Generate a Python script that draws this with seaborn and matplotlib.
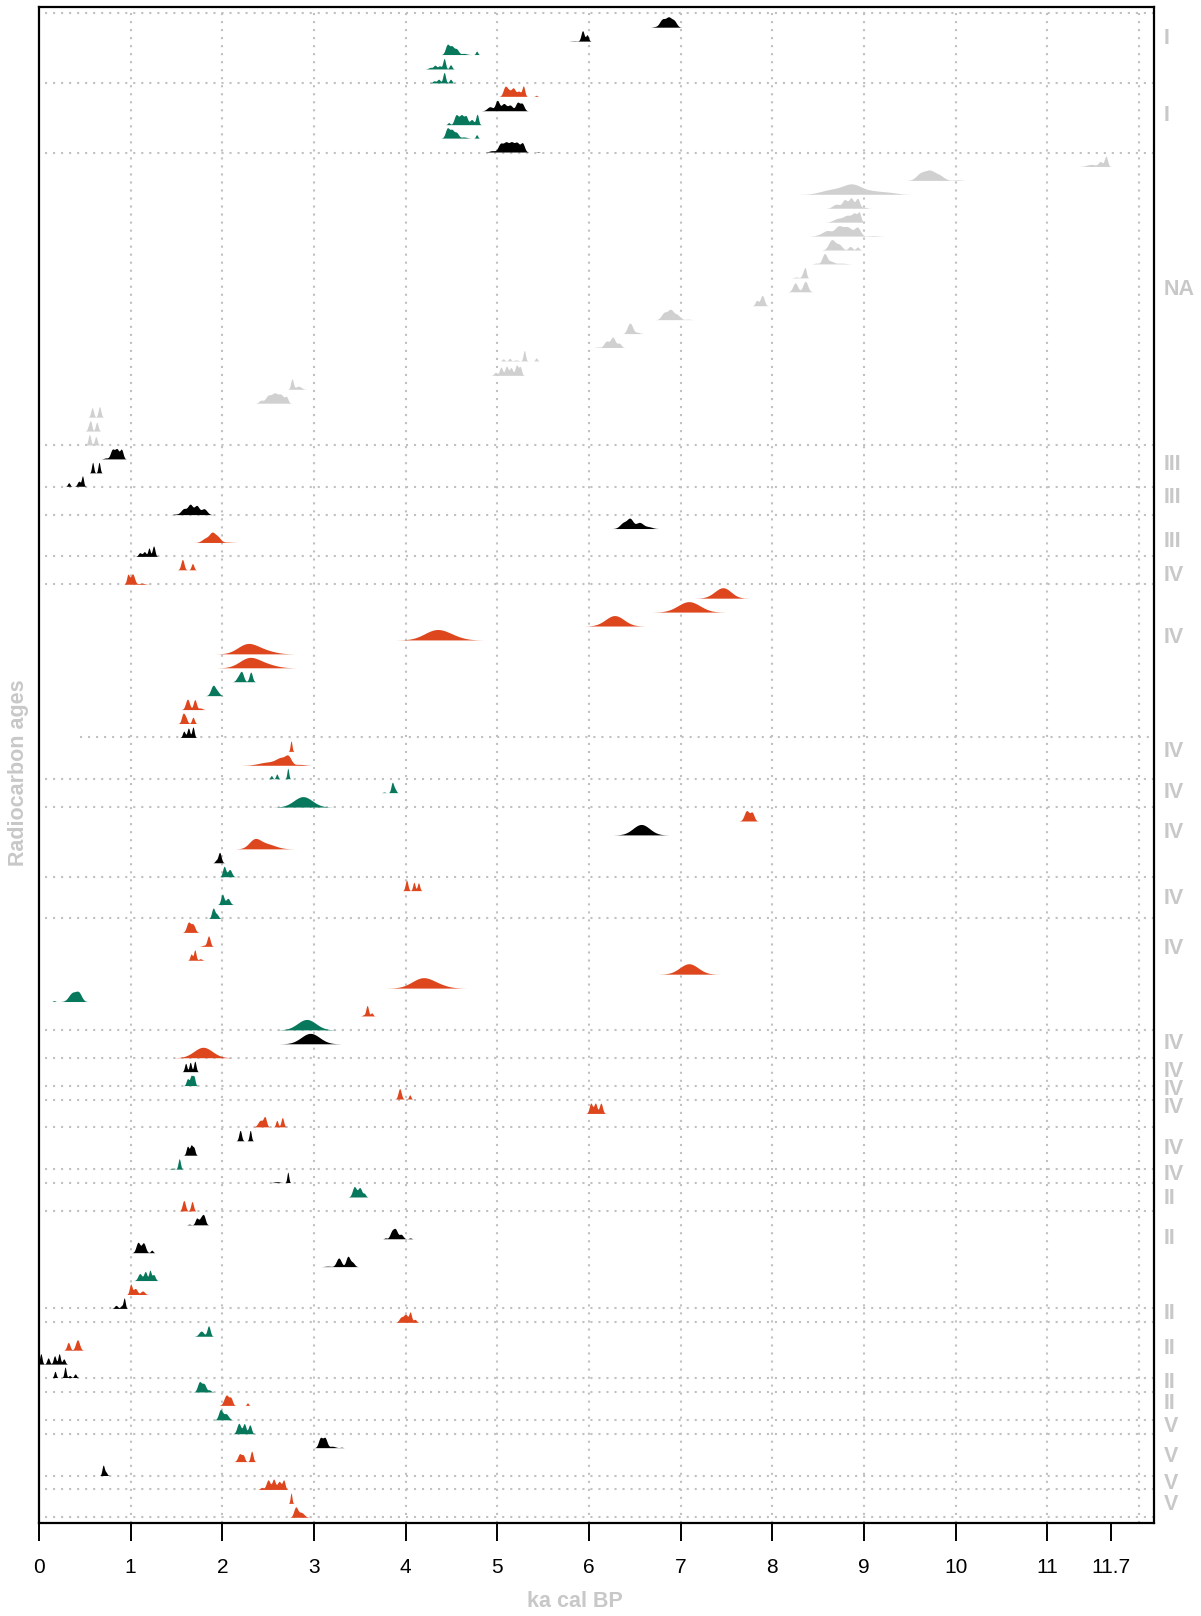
import numpy as np
import matplotlib
matplotlib.use("Agg")
import matplotlib.pyplot as plt
import seaborn as sns

# ---------------------------------------------------------------------------
# Calibrated age profiles, one per row (top to bottom).  Each profile is a set
# of (centre ka, spread ka, relative height) components; None = no profile.
# Colour keys: k = black, g = green, r = red, n = undated context (grey)
# ---------------------------------------------------------------------------
row_colour = [
    "k", "k", "g", "g", "g",                                  # 1-5
    "r", "k", "g", "g", "k",                                  # 6-10
    "n", "n", "n", "n", "n", "n", "n", "n", "n", "n",         # 11-20
    "n", "n", "n", "n", "n", "n", "n", "n", "n", "n", "n",    # 21-31
    "k", "k", "k", None, "k",                                 # 32-36
    "k", "r", "k", "r", "r",                                  # 37-41
    "r", "r", "r", "r", "r", "r", "g", "g", "r", "r", "k",    # 42-52
    "r", "r", "g", "g", "g",                                  # 53-57
    "r", "k", "r", "k", "g",                                  # 58-62
    "r", "g", "g",                                            # 63-65
    "r", "r", "r", "r", "r", "g", "r", "g",                   # 66-73
    "k", "r", "k", "g", "r", "r", "r",                        # 74-80
    "k", "k", "g", "k", "g", "r",                             # 81-86
    "k", "k", "k", "k", "g", "r", "k",                        # 87-93
    "r", "g", "r", "k", "k",                                  # 94-98
    "g", "r", "g", "g",                                       # 99-102
    "k", "r", "k", "r", "r", "r",                             # 103-108
]

row_peaks = [
    [(6.80, .03, .8), (6.87, .03, 1), (6.93, .025, .6), (6.72, .02, .05)],
    [(5.93, .015, 1), (5.98, .012, .6), (5.84, .03, .03)],
    [(4.46, .02, 1), (4.51, .02, .8), (4.56, .02, .55), (4.64, .03, .12), (4.78, .008, .35)],
    [(4.27, .02, .15), (4.32, .015, .35), (4.37, .015, .3), (4.42, .012, 1), (4.49, .012, .4)],
    [(4.31, .015, .2), (4.36, .015, .35), (4.42, .012, 1), (4.49, .012, .35)],
    [(5.09, .02, .9), (5.13, .02, .5), (5.18, .02, .8), (5.24, .02, .5), (5.29, .012, 1), (5.43, .008, .1)],
    [(4.92, .03, .4), (5.00, .02, 1), (5.07, .025, .7), (5.14, .025, .55), (5.22, .02, .8), (5.27, .02, .7)],
    [(4.47, .01, .2), (4.55, .02, .9), (4.61, .025, .95), (4.66, .015, .7), (4.72, .02, .5), (4.78, .012, 1)],
    [(4.46, .02, 1), (4.51, .02, .8), (4.56, .02, .55), (4.64, .03, .12), (4.78, .008, .35)],
    [(4.95, .03, .15), (5.04, .025, .9), (5.10, .025, 1), (5.16, .025, 1), (5.22, .025, 1), (5.28, .02, .95), (5.45, .01, .05)],
    # undated contexts
    [(11.48, .05, .2), (11.58, .02, .45), (11.64, .015, 1)],
    [(9.62, .05, .7), (9.72, .05, .9), (9.82, .05, .5), (10.02, .04, .06)],
    [(8.65, .12, .5), (8.87, .10, 1), (9.10, .12, .35), (9.30, .08, .12)],
    [(8.70, .04, .4), (8.79, .025, .8), (8.86, .025, 1), (8.93, .02, .95), (9.00, .03, .1)],
    [(8.72, .05, .45), (8.82, .04, .75), (8.90, .03, 1), (8.95, .015, .95)],
    [(8.50, .04, .08), (8.60, .05, .6), (8.72, .04, .95), (8.82, .05, 1), (8.93, .03, .9), (9.10, .06, .06)],
    [(8.65, .035, 1), (8.73, .03, .5), (8.85, .02, .35), (8.93, .015, .3)],
    [(8.48, .02, .08), (8.57, .025, 1), (8.64, .03, .25), (8.75, .05, .08)],
    [(8.26, .02, .12), (8.34, .015, .7), (8.36, .01, 1)],
    [(8.25, .025, .85), (8.36, .025, 1)],
    [(7.83, .015, .5), (7.89, .02, 1)],
    [(6.82, .03, .7), (6.89, .03, 1), (6.96, .03, .5), (7.08, .03, .05)],
    [(6.43, .02, .9), (6.46, .02, 1), (6.52, .03, .2)],
    [(6.10, .02, .05), (6.19, .025, .6), (6.26, .025, 1), (6.33, .02, .4)],
    [(5.07, .01, .2), (5.14, .01, .25), (5.21, .02, .1), (5.30, .01, 1), (5.43, .008, .3)],
    [(4.98, .015, .3), (5.04, .015, .8), (5.10, .015, .9), (5.15, .015, .75), (5.21, .015, 1), (5.25, .012, .8)],
    [(2.76, .012, 1), (2.83, .03, .3)],
    [(2.42, .02, .3), (2.50, .03, .8), (2.57, .03, 1), (2.64, .03, .9), (2.70, .015, .6)],
    [(0.58, .012, .9), (0.66, .012, 1)],
    [(0.545, .012, .6), (0.565, .01, .9), (0.63, .012, 1)],
    [(0.55, .012, 1), (0.62, .012, .8)],
    # 32-41
    [(0.73, .02, .1), (0.80, .02, .95), (0.85, .02, 1), (0.90, .015, .95)],
    [(0.585, .008, 1), (0.655, .008, 1)],
    [(0.33, .01, .35), (0.44, .015, .5), (0.48, .008, 1)],
    None,
    [(1.50, .03, .05), (1.58, .03, .6), (1.65, .025, 1), (1.72, .025, .9), (1.80, .03, .6)],
    [(6.38, .04, .7), (6.45, .03, 1), (6.55, .04, .7), (6.65, .04, .2)],
    [(1.82, .04, .5), (1.89, .03, 1), (1.95, .03, .6), (2.05, .05, .05)],
    [(1.10, .015, .35), (1.15, .015, .45), (1.20, .01, .8), (1.25, .012, 1)],
    [(1.57, .015, 1), (1.68, .012, .6)],
    [(0.97, .012, .9), (1.02, .02, 1), (1.12, .03, .1)],
    # 42-52
    [(7.48, .08, 1), (7.40, .08, .4)],
    [(7.09, .12, 1)],
    [(6.28, .10, 1)],
    [(4.33, .13, 1), (4.50, .12, .25)],
    [(2.25, .10, .8), (2.35, .12, .7), (2.52, .10, .15)],
    [(2.27, .10, .8), (2.37, .12, .7), (2.54, .10, .15)],
    [(2.17, .02, .4), (2.21, .02, 1), (2.31, .015, 1)],
    [(1.90, .025, 1), (1.95, .02, .3)],
    [(1.62, .02, 1), (1.70, .015, .95), (1.76, .02, .15)],
    [(1.57, .015, 1), (1.60, .015, .6), (1.68, .012, .7)],
    [(1.58, .012, .6), (1.63, .012, .9), (1.68, .01, 1)],
    # 53-57
    [(2.75, .006, 1)],
    [(2.50, .10, .35), (2.65, .06, .75), (2.72, .03, .7), (2.85, .05, .1)],
    [(2.54, .008, .3), (2.60, .008, .45), (2.72, .006, 1)],
    [(3.77, .01, .06), (3.86, .012, 1), (3.89, .01, .3)],
    [(2.88, .10, 1)],
    # 58-62
    [(7.72, .025, 1), (7.78, .02, .8)],
    [(6.57, .09, 1)],
    [(2.35, .06, .9), (2.47, .10, .6)],
    [(1.93, .01, .2), (1.97, .015, 1)],
    [(2.02, .015, 1), (2.08, .02, .7)],
    # 63-65
    [(4.01, .012, 1), (4.09, .01, .8), (4.14, .01, .75)],
    [(2.00, .015, 1), (2.06, .02, .6)],
    [(1.90, .015, 1), (1.94, .015, .4)],
    # 66-73
    [(1.63, .02, 1), (1.68, .02, .8)],
    [(1.80, .02, .1), (1.85, .015, 1)],
    [(1.66, .01, .6), (1.70, .01, 1), (1.76, .015, .15)],
    [(7.09, .10, 1)],
    [(4.19, .12, 1), (4.38, .10, .15)],
    [(0.17, .008, .1), (0.37, .04, 1), (0.44, .03, .9)],
    [(3.54, .01, .1), (3.58, .012, 1), (3.63, .01, .3)],
    [(2.92, .10, 1)],
    # 74-80
    [(2.96, .10, 1)],
    [(1.79, .10, 1)],
    [(1.60, .01, .8), (1.65, .01, .9), (1.70, .01, 1)],
    [(1.62, .012, .7), (1.66, .012, 1), (1.69, .01, .9)],
    [(3.94, .015, 1), (4.05, .008, .4)],
    [(6.02, .015, 1), (6.07, .015, 1), (6.13, .015, 1)],
    [(2.42, .025, .7), (2.47, .015, 1), (2.60, .01, .7), (2.66, .012, 1)],
    # 81-86
    [(2.20, .012, 1), (2.31, .008, 1)],
    [(1.62, .012, .9), (1.66, .012, 1), (1.69, .01, .7)],
    [(1.45, .01, .1), (1.53, .01, 1)],
    [(2.60, .03, .08), (2.72, .006, 1)],
    [(3.44, .02, 1), (3.50, .02, .9), (3.55, .012, .3)],
    [(1.58, .015, 1), (1.67, .012, .9)],
    # 87-93
    [(1.64, .01, .1), (1.72, .015, .9), (1.77, .02, 1), (1.80, .015, 1)],
    [(3.78, .01, .1), (3.85, .02, .8), (3.89, .02, 1), (3.95, .02, .5), (4.05, .01, .1)],
    [(1.08, .02, 1), (1.14, .02, .95), (1.23, .01, .25)],
    [(3.15, .03, .05), (3.27, .025, .85), (3.37, .02, 1), (3.42, .02, .4)],
    [(1.10, .02, .7), (1.16, .015, .9), (1.21, .01, 1), (1.25, .015, .6)],
    [(1.00, .012, 1), (1.05, .02, .6), (1.13, .02, .35)],
    [(0.84, .015, .3), (0.90, .012, .25), (0.93, .008, 1)],
    # 94-98
    [(3.95, .02, .5), (4.00, .02, .8), (4.05, .012, 1), (4.10, .015, .3)],
    [(1.77, .025, .5), (1.85, .015, 1)],
    [(0.32, .015, .75), (0.42, .02, 1)],
    [(0.02, .01, 1), (0.10, .012, .6), (0.17, .012, .8), (0.22, .01, 1), (0.27, .012, .5)],
    [(0.18, .008, .6), (0.29, .008, 1), (0.34, .01, .2), (0.40, .01, .35)],
    # 99-102
    [(1.75, .02, 1), (1.80, .02, .8), (1.86, .015, .2)],
    [(2.05, .025, 1), (2.10, .015, .6), (2.28, .006, .25)],
    [(1.98, .02, 1), (2.04, .025, .6)],
    [(2.18, .02, 1), (2.24, .015, .95), (2.30, .015, .85)],
    # 103-108
    [(3.07, .02, 1), (3.12, .02, 1), (3.20, .03, .15), (3.30, .01, .05)],
    [(2.19, .02, .75), (2.23, .012, .5), (2.32, .012, 1)],
    [(0.70, .01, 1), (0.73, .01, .3)],
    [(2.43, .015, .2), (2.50, .02, .95), (2.56, .015, 1), (2.62, .02, .8), (2.67, .012, .9)],
    [(2.75, .005, 1)],
    [(2.80, .02, 1), (2.86, .03, .5)],
]

# Group separators (row index of each group's last row; 0 = top)
group_bounds = [0, 5, 10, 31, 34, 36, 39, 41, 52, 55, 57, 62, 65, 73, 75, 77,
                78, 80, 83, 84, 86, 93, 94, 98, 99, 101, 102, 105, 106, 108]
bound_start = {52: 0.45}          # separators that begin further right

group_labels = ["I", "I", "NA", "III", "III", "III",
                "IV", "IV", "IV", "IV", "IV", "IV", "IV", "IV", "IV", "IV", "IV", "IV", "IV",
                "II", "II", "II", "II", "II", "II",
                "V", "V", "V", "V"]
label_rows = [1.8, 7.35, 19.8, 32.4, 34.8, 37.95,
              40.4, 44.8, 53.0, 55.95, 58.85, 63.6, 67.15, 73.95, 76.0, 77.3, 78.6, 81.55, 83.35,
              85.1, 88.0, 93.4, 95.9, 98.35, 99.8,
              101.5, 103.6, 105.6, 107.1]

xtick_pos = [0, 1, 2, 3, 4, 5, 6, 7, 8, 9, 10, 11, 11.7]
xtick_txt = ["0", "1", "2", "3", "4", "5", "6", "7", "8", "9", "10", "11", "11.7"]

palette = {"k": "#000000", "g": "#08785C", "r": "#DE461D", "n": "#D0D0D0"}
soft_grey = "#C8C8C8"

# ---------------------------------------------------------------------------
sns.set_theme(style="white")
plt.rcParams["font.family"] = ["Liberation Sans", "DejaVu Sans"]

fig = plt.figure(figsize=(12.01, 16.16), dpi=100)
ax = fig.add_axes([39 / 1201, 1 - 1523 / 1616, (1153.6 - 39) / 1201, (1523 - 7) / 1616])

ax.set_xlim(0, 12.16)
ax.set_ylim(108.41, -0.45)

dot_style = dict(color="#C0C0C0", lw=1.5, linestyle=(0, (1.0, 2.85)),
                 dash_capstyle="butt", zorder=1)

# vertical guides at whole ka
for xv in range(1, 13):
    ax.axvline(xv, **dot_style)
# group separators
for b in group_bounds:
    ax.plot([bound_start.get(b, 0.07), 12.16], [b, b], **dot_style)

# age profiles
xs = np.arange(-0.1, 12.3, 0.002)
peak_h = 0.75
for i, (col, peaks) in enumerate(zip(row_colour, row_peaks)):
    if peaks is None:
        continue
    dens = np.zeros_like(xs)
    for mu, sd, amp in peaks:
        s = np.hypot(sd, 0.008)
        dens += amp * np.exp(-0.5 * ((xs - mu) / s) ** 2)
    dens /= dens.max()
    base = i + 1
    m = dens > 0.004
    ax.fill_between(xs, base, base - peak_h * dens, where=m,
                    color=palette[col], lw=0, zorder=3)

# group labels on the right
for lab, yr in zip(group_labels, label_rows):
    ax.text(12.27, yr, lab, ha="left", va="center", fontsize=15.5,
            fontweight="bold", color=soft_grey, clip_on=False)

# axes
for sp in ax.spines.values():
    sp.set_visible(True)
    sp.set_color("black")
    sp.set_linewidth(1.6)
ax.set_yticks([])
ax.set_xticks(xtick_pos)
ax.set_xticklabels(xtick_txt)
ax.tick_params(axis="x", direction="out", length=13, width=1.4, pad=12,
               labelsize=15, colors="black", bottom=True)
ax.grid(False)

ax.text(5.85, -0.052, "ka cal BP", transform=ax.get_xaxis_transform(),
        ha="center", va="center", fontsize=15.5, fontweight="bold", color=soft_grey)
fig.text(18.5 / 1201, 1 - 773 / 1616, "Radiocarbon ages", rotation=90,
         ha="center", va="center", fontsize=15.5, fontweight="bold", color=soft_grey)

fig.savefig("out.png", dpi=100)
